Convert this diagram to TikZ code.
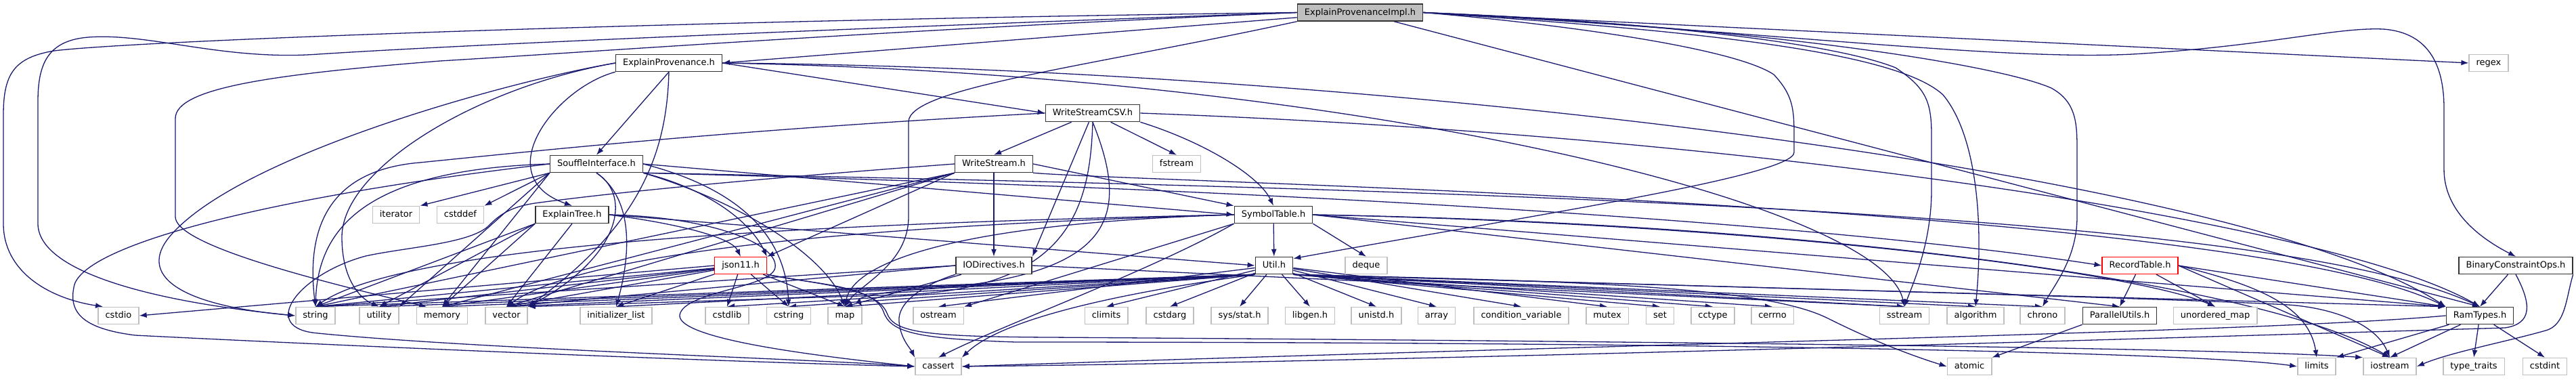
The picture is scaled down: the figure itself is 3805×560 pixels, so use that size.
\documentclass[tikz,border=0pt]{standalone}
\usepackage{fontspec}
\setmainfont{DejaVu Sans}
\usepackage{tikz}
\usetikzlibrary{arrows.meta,backgrounds}
\definecolor{EdgeNavy}{HTML}{191970}
\definecolor{BoxGray}{HTML}{BFBFBF}
\definecolor{TruncRed}{HTML}{FF0000}

\begin{document}
\begin{tikzpicture}[
  x=1pt, y=-1pt,
  font=\fontsize{13}{15}\selectfont,
  >=Latex,
  header/.style={rectangle,draw=black!80,line width=1.5pt,fill=white,minimum height=25pt,
    inner xsep=10.5pt,inner ysep=0pt,text height=9.5pt,text depth=2.5pt},
  syshdr/.style={header,draw=BoxGray},
  trunchdr/.style={header,draw=TruncRed,line width=1.2pt},
  roothdr/.style={header,fill=BoxGray},
  dep/.style={-{Latex[length=11pt,width=8pt]},line width=1.3pt,draw=EdgeNavy}
]
\useasboundingbox (0,0) rectangle (3805,560);

% Project headers
\node[roothdr] (epi) at (2009,18.5) {ExplainProvenanceImpl.h};
\node[header] (explprov) at (988,93) {ExplainProvenance.h};
\node[header] (wcsv) at (1614,167) {WriteStreamCSV.h};
\node[header] (souffle) at (881,242) {SouffleInterface.h};
\node[header] (wstream) at (1468,242) {WriteStream.h};
\node[header] (etree) at (845,317) {ExplainTree.h};
\node[header] (symtab) at (1881,317) {SymbolTable.h};
\node[trunchdr] (json) at (1094,392) {json11.h};
\node[header] (iodir) at (1468,392) {IODirectives.h};
\node[header] (util) at (1882,392) {Util.h};
\node[trunchdr] (rectab) at (3161,392) {RecordTable.h};
\node[header] (binops) at (3716,392) {BinaryConstraintOps.h};
\node[header] (putils) at (3131,466) {ParallelUtils.h};
\node[header] (ramtypes) at (3663,466) {RamTypes.h};

% System headers
\node[syshdr] (regex) at (3676,93) {regex};
\node[syshdr] (fstream) at (1738,242) {fstream};
\node[syshdr] (iterator) at (585,317) {iterator};
\node[syshdr] (cstddef) at (680,317) {cstddef};
\node[syshdr] (deque) at (2018,392) {deque};
\foreach \name/\x/\lab in {cstdio/175/cstdio, string/466/string, utility/560/utility,
    memory/653/memory, vector/748/vector, initlist/910/initializer\_list,
    cstdlib/1074/cstdlib, cstring/1165/cstring, map/1248/map, ostream/1386/ostream,
    climits/1634/climits, cstdarg/1728/cstdarg, libgen/1935/libgen.h,
    unistd/2033/unistd.h, array/2122/array, condvar/2247/condition\_variable,
    mutex/2374/mutex, set/2452/set, cctype/2530/cctype, cerrno/2618/cerrno,
    sstream/2813/sstream, algorithm/2918/algorithm, chrono/3017/chrono,
    umap/3272/unordered\_map}
  \node[syshdr] (\name) at (\x,466) {\lab};
\node[syshdr] (sysstat) at (1831,466) {sys/stat.h};
\foreach \name/\x/\lab in {cassert/1386/cassert, atomic/2909/atomic, limits/3422/limits,
    iostream/3530/iostream, typetraits/3654/type\_traits, cstdint/3759/cstdint}
  \node[syshdr] (\name) at (\x,541) {\lab};

\begin{scope}[on background layer]
% ExplainProvenanceImpl.h
\draw[dep] (epi) -- (explprov.east);
\draw[dep] (epi.east) -- (regex.west);
\draw[dep] (epi) -- (ramtypes.north);
\draw[dep] (epi.west) .. controls (1000,30) and (200,60) .. (80,75)
  .. controls (20,85) and (5,110) .. (5,170) -- (5,330)
  .. controls (5,400) and (70,440) .. (cstdio.150);
\draw[dep] (epi.west) .. controls (1300,40) and (700,65) .. (470,80)
  .. controls (330,90) and (220,48) .. (130,55) .. controls (70,60) and (56,95) .. (56,150)
  -- (56,330) .. controls (56,400) and (220,445) .. (string.west);
\draw[dep] (epi.west) .. controls (1300,45) and (900,75) .. (650,90)
  .. controls (400,110) and (259,130) .. (259,175) -- (259,320)
  .. controls (259,360) and (450,410) .. (memory.150);
\draw[dep] (epi.south west) .. controls (1600,100) and (1342,130) .. (1342,180) -- (1342,320)
  .. controls (1342,390) and (1270,420) .. (map.north);
\draw[dep] (epi.east) .. controls (2400,30) and (2700,60) .. (2800,100)
  .. controls (2845,130) and (2853,150) .. (2853,200) -- (2853,280)
  .. controls (2853,360) and (2825,420) .. (sstream.north);
\draw[dep] (epi.east) .. controls (2500,45) and (2800,75) .. (2870,140)
  .. controls (2920,200) and (2930,330) .. (algorithm.north);
\draw[dep] (epi.east) .. controls (2600,40) and (2950,95) .. (3030,130)
  .. controls (3066,150) and (3068,180) .. (3068,220) -- (3068,320)
  .. controls (3068,380) and (3035,420) .. (chrono.north);
\draw[dep] (epi.east) .. controls (2300,35) and (2560,70) .. (2620,110)
  .. controls (2648,140) and (2650,160) .. (2650,200) -- (2650,225)
  .. controls (2650,260) and (2250,320) .. (util.20);
\draw[dep] (epi.east) .. controls (2600,45) and (2950,90) .. (3150,80)
  .. controls (3350,68) and (3450,40) .. (3520,43) .. controls (3590,48) and (3610,100) .. (3610,160)
  -- (3610,250) .. controls (3610,310) and (3660,350) .. (binops.north);

% ExplainProvenance.h
\draw[dep] (explprov.south west) .. controls (820,130) and (720,260) .. (etree.north);
\draw[dep] (explprov.south) -- (souffle.north);
\draw[dep] (explprov.south) .. controls (985,220) and (950,330) .. (vector.north east);
\draw[dep] (explprov.east) -- (wcsv.west);
\draw[dep] (explprov.east) .. controls (2000,100) and (3300,250) .. (ramtypes.north west);
\draw[dep] (explprov.east) .. controls (2000,110) and (2780,300) .. (sstream.north);
\draw[dep] (explprov.west) .. controls (750,120) and (350,230) .. (250,350)
  .. controls (205,405) and (260,450) .. (string.west);
\draw[dep] (explprov.west) .. controls (700,130) and (505,250) .. (505,350)
  .. controls (505,410) and (530,440) .. (utility.north);

% SouffleInterface.h
\draw[dep] (souffle.south west) -- (iterator.north east);
\draw[dep] (souffle.south west) -- (cstddef.north east);
\draw[dep] (souffle.west) .. controls (550,250) and (470,330) .. (string.north);
\draw[dep] (souffle.south west) -- (utility.north east);
\draw[dep] (souffle.south west) -- (memory.north);
\draw[dep] (souffle.south) .. controls (935,290) and (915,380) .. (vector.north east);
\draw[dep] (souffle.south) .. controls (945,300) and (925,400) .. (initlist.north);
\draw[dep] (souffle.south east) .. controls (1050,280) and (1110,330) .. (json.north east);
\draw[dep] (souffle.east) .. controls (1080,275) and (1160,340) .. (cstring.north);
\draw[dep] (souffle.south east) .. controls (1100,300) and (1220,380) .. (map.north);
\draw[dep] (souffle.east) -- (symtab.west);
\draw[dep] (souffle.south east) .. controls (2500,285) and (3400,330) .. (ramtypes.north);
\draw[dep] (souffle.south east) .. controls (2300,290) and (2900,360) .. (rectab.west);
\draw[dep] (souffle.west) .. controls (400,290) and (130,360) .. (110,420)
  .. controls (100,460) and (120,485) .. (200,495)
  .. controls (600,515) and (1100,535) .. (cassert.west);

% ExplainTree.h
\foreach \t in {string,utility,memory}
  \draw[dep] (etree.south west) -- (\t.north);
\draw[dep] (etree.south) -- (vector.north);
\draw[dep] (etree.east) .. controls (1000,330) and (1080,350) .. (json.north);
\draw[dep] (etree.east) -- (util.west);
\draw[dep] (etree.east) .. controls (1050,320) and (1150,360) .. (1145,395)
  .. controls (1140,425) and (1010,430) .. (1004,465)
  .. controls (1000,500) and (1200,525) .. (cassert.west);

% WriteStreamCSV.h
\draw[dep] (wcsv) -- (wstream.north);
\draw[dep] (wcsv) -- (iodir.north east);
\draw[dep] (wcsv) -- (fstream.north);
\draw[dep] (wcsv.south east) .. controls (1780,210) and (1860,260) .. (symtab.north);
\draw[dep] (wcsv.east) .. controls (2600,200) and (3450,330) .. (ramtypes.north);
\draw[dep] (wcsv.west) .. controls (1100,190) and (800,222) .. (620,240)
  .. controls (500,250) and (450,320) .. (string.north);
\draw[dep] (wcsv.south) .. controls (1610,320) and (1570,435) .. (1300,436) -- (vector.north east);
\draw[dep] (wcsv.south) .. controls (1670,320) and (1650,410) .. (1350,428)
  .. controls (1290,432) and (1265,440) .. (map.north east);

% WriteStream.h
\draw[dep] (wstream) -- (iodir);
\draw[dep] (wstream.east) -- (symtab.north west);
\draw[dep] (wstream.south west) -- (json.north east);
\foreach \t in {string,memory,vector}
  \draw[dep] (wstream.south west) -- (\t.north);
\draw[dep] (wstream.south east) .. controls (1700,270) and (3300,300) .. (ramtypes.north west);
\draw[dep] (wstream.west) .. controls (1100,265) and (900,285) .. (790,300)
  .. controls (750,306) and (735,320) .. (720,335) .. controls (690,360) and (600,365) .. (540,378)
  .. controls (440,405) and (380,485) .. (470,492)
  .. controls (700,515) and (1200,530) .. (cassert.west);

% IODirectives.h
\draw[dep] (iodir.west) -- (string.north);
\draw[dep] (iodir.west) -- (vector.north);
\draw[dep] (iodir) -- (map.north);
\draw[dep] (iodir.east) -- (sstream.north);
\draw[dep] (iodir.south west) .. controls (1380,415) and (1325,440) .. (1328,475)
  .. controls (1330,500) and (1345,515) .. (cassert.north west);

% json11.h
\draw[dep] (json.west) -- (cstdio.east);
\foreach \t in {string,utility,memory,vector,initlist,cstdlib,cstring,map}
  \draw[dep] (json) -- (\t.north);
\draw[dep] (json.south east) .. controls (1200,420) and (1290,420) .. (1305,460)
  .. controls (1315,490) and (1350,500) .. (1500,505)
  .. controls (2500,505) and (3250,520) .. (limits.west);
\draw[dep] (json.south east) .. controls (1210,420) and (1295,425) .. (1310,462)
  .. controls (1320,490) and (1360,497) .. (1550,498)
  .. controls (2600,505) and (3300,515) .. (iostream.north west);

% SymbolTable.h
\draw[dep] (symtab) -- (util);
\draw[dep] (symtab.south east) -- (deque.north);
\draw[dep] (symtab.east) -- (putils.north);
\draw[dep] (symtab.east) -- (ramtypes.north west);
\draw[dep] (symtab.east) .. controls (2700,330) and (3350,420) .. (iostream.north);
\draw[dep] (symtab.east) .. controls (2600,330) and (3150,400) .. (umap.north);
\draw[dep] (symtab.south west) -- (ostream.north east);
\draw[dep] (symtab.south west) .. controls (1700,400) and (1480,480) .. (cassert.north);
\draw[dep] (symtab.west) .. controls (1200,330) and (600,360) .. (string.north);
\draw[dep] (symtab.west) .. controls (1200,335) and (850,380) .. (vector.north);
\draw[dep] (symtab.west) .. controls (1400,330) and (1260,390) .. (map.north);

% Util.h
\foreach \t in {ostream,climits,cstdarg,sysstat,libgen,unistd,array,condvar,mutex}
  \draw[dep] (util) -- (\t.north);
\foreach \t in {set,cctype,cerrno,sstream,algorithm,chrono}
  \draw[dep] (util.south east) -- (\t.north);
\foreach \t in {string,utility,memory,vector,initlist,cstdlib,cstring,map}
  \draw[dep] (util.south west) -- (\t.north);
\draw[dep] (util.south east) -- (ramtypes.north west);
\draw[dep] (util.south east) .. controls (2600,425) and (3200,440) .. (3380,450)
  .. controls (3450,455) and (3510,480) .. (iostream.north);
\draw[dep] (util.south east) .. controls (2300,415) and (2600,420) .. (2700,470)
  .. controls (2780,510) and (2840,530) .. (atomic.west);
\draw[dep] (util.south west) .. controls (1600,440) and (1470,480) .. (cassert.north east);

% RecordTable.h, ParallelUtils.h
\draw[dep] (rectab) -- (putils.north);
\draw[dep] (rectab) -- (umap.north);
\draw[dep] (rectab.east) -- (ramtypes.north west);
\draw[dep] (rectab.east) -- (iostream.north);
\draw[dep] (rectab.east) .. controls (3330,420) and (3410,450) .. (limits.north);
\draw[dep] (putils.south west) -- (atomic.north east);

% BinaryConstraintOps.h, RamTypes.h
\draw[dep] (binops) -- (ramtypes.north);
\draw[dep] (binops.south) .. controls (3740,450) and (3740,478) .. (3700,484)
  .. controls (3000,505) and (2000,535) .. (cassert.east);
\draw[dep] (binops.south east) .. controls (3790,440) and (3790,480) .. (3760,488)
  .. controls (3700,505) and (3620,520) .. (iostream.east);
\draw[dep] (ramtypes) -- (limits.north east);
\foreach \t in {iostream,typetraits,cstdint}
  \draw[dep] (ramtypes) -- (\t.north);
\draw[dep] (ramtypes.west) .. controls (3350,490) and (2500,505) .. (cassert.east);
\end{scope}

\end{tikzpicture}
\end{document}
